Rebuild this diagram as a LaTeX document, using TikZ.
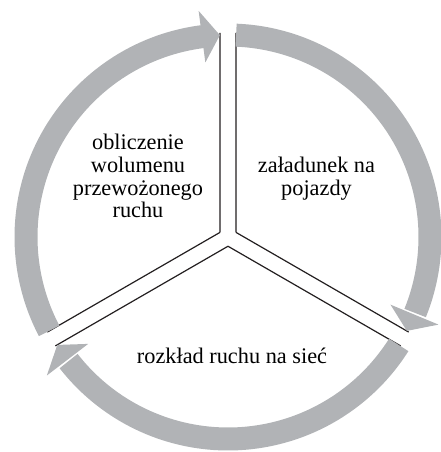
\documentclass[tikz,border=0pt]{standalone}
\usepackage{fontspec}
\setmainfont{Liberation Serif}
\usetikzlibrary{calc}
\definecolor{bandgray}{RGB}{177,179,182}
\definecolor{inkline}{RGB}{35,31,32}
\begin{document}
\begin{tikzpicture}[x=1pt,y=1pt,
  band/.style={draw=bandgray, line width=23pt},
  head/.style={fill=bandgray},
  sepline/.style={draw=inkline, line width=1.2pt},
  txt/.style={align=center, font=\fontsize{22.3}{22.8}\selectfont, inner sep=0pt}]
\useasboundingbox (-228,-215) rectangle (213,237);
% junction points of the double separator lines
\coordinate (jl) at (150:9.24);
\coordinate (jr) at (30:9.24);
\coordinate (jb) at (270:9.24);
% outer ends of the separator lines
\coordinate (topL) at ($(90:204)+(180:8)$);
\coordinate (topR) at ($(90:204)+(0:8)$);
\coordinate (rU) at ($(-30:204)+(60:8)$);
\coordinate (rL) at ($(-30:204)+(-120:8)$);
\coordinate (lU) at ($(210:204)+(120:8)$);
\coordinate (lL) at ($(210:204)+(300:8)$);
% separator lines
\draw[sepline] (jl) -- (topL);
\draw[sepline] (jr) -- (topR);
\draw[sepline] (jr) -- (rU);
\draw[sepline] (jb) -- (rL);
\draw[sepline] (jl) -- (lU);
\draw[sepline] (jb) -- (lL);
% cycle arrows
\draw[band] (207.7:202) arc[start angle=207.7, end angle=96.9, radius=202];
\fill[head] (97.4:228) -- (92.3:202) -- (97.4:176) -- cycle;
\draw[band] (87.7:202) arc[start angle=87.7, end angle=-22.1, radius=202];
\fill[head] (-22.6:228) -- (-27.7:202) -- (-22.6:176) -- cycle;
\draw[band] (-32.3:202) arc[start angle=-32.3, end angle=-142.1, radius=202];
\fill[head] (-142.6:228) -- (-147.7:202) -- (-142.6:176) -- cycle;
% texts
\node[txt] (t1) at (-90,61) {obliczenie\\wolumenu\\przewożonego\\ruchu};
\node[txt] (t2) at (88.5,58) {załadunek na\\pojazdy};
\node[txt] (t3) at (4,-119) {rozkład ruchu na sieć};
\end{tikzpicture}
\end{document}
